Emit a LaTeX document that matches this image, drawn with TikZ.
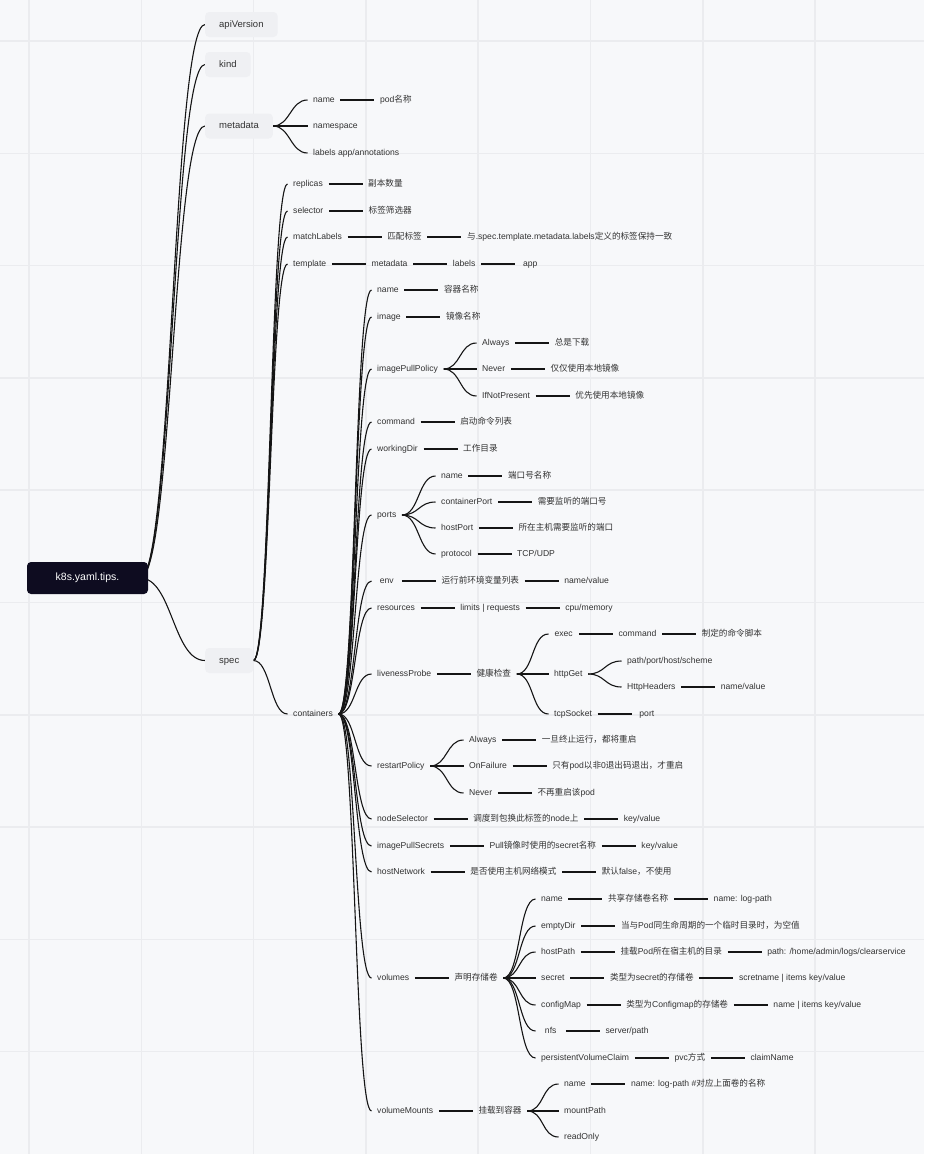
\documentclass[tikz,border=0pt]{standalone}
\usepackage{fontspec}
\setmainfont{Liberation Sans}
\newfontfamily\cjk{Noto Sans CJK SC}
\newcommand\zh[1]{{\cjk #1}}
\usetikzlibrary{positioning}
\definecolor{paper}{HTML}{F7F8FA}
\definecolor{gridc}{HTML}{EBECEF}
\definecolor{rootc}{HTML}{0E0C20}
\definecolor{topicc}{HTML}{EFF0F3}
\definecolor{inkc}{HTML}{333333}
\definecolor{wirec}{HTML}{151515}
\pgfdeclarelayer{back}
\pgfsetlayers{back,main}

\begin{document}
\begin{tikzpicture}[x=1pt,y=-1pt,
    root/.style={fill=rootc,text=white,rounded corners=4pt,minimum width=121pt,
      minimum height=32pt,font=\fontsize{10.5}{12}\selectfont},
    topic/.style={anchor=west,fill=topicc,text=inkc,rounded corners=4pt,inner xsep=14pt,
      minimum height=25pt,text height=7.5pt,text depth=2pt,font=\fontsize{9.5}{11}\selectfont},
    leaf/.style={anchor=west,text=inkc,inner xsep=5.5pt,inner ysep=2pt,minimum width=30pt,
      text height=6.5pt,text depth=2pt,font=\fontsize{8.6}{10}\selectfont},
    link/.style={draw=wirec,line width=1.1pt},
    branch/.style={link,to path={(\tikztostart) .. controls +(#1,0) and +(-#1,0) .. (\tikztotarget)}},
    branch/.default=17,
    node distance=34pt]
  \useasboundingbox (0,0) rectangle (924,1154);
  \begin{pgfonlayer}{back}
    \fill[paper] (0,0) rectangle (924,1154);
    \foreach \k in {0,...,7}
      \draw[gridc,line width=1.5pt] ({29+112.3*\k},0) -- ({29+112.3*\k},1154);
    \foreach \k in {0,...,9}
      \draw[gridc,line width=1.5pt] (0,{41+112.3*\k}) -- (924,{41+112.3*\k});
  \end{pgfonlayer}

  \node[root] (root) at (87.5,578) {k8s.yaml.tips.};
  \node[topic] (api) at (205,24.5) {apiVersion};
  \node[topic] (kind) at (205,64.5) {kind};
  \node[topic] (meta) at (205,126) {metadata};
  \node[topic] (spec) at (205,660.5) {spec};

  % metadata
  \node[leaf] (mName) at (307.5,100) {name};
  \node[leaf,right=of mName] (mNameV) {pod\zh{名称}};
  \node[leaf] (mNs) at (307.5,126) {namespace};
  \node[leaf] (mLabels) at (307.5,153) {labels app/annotations};

  % spec
  \node[leaf] (replicas) at (287.5,184) {replicas};
  \node[leaf,right=of replicas] (replicasV) {\zh{副本数量}};
  \node[leaf] (selector) at (287.5,211) {selector};
  \node[leaf,right=of selector] (selectorV) {\zh{标签筛选器}};
  \node[leaf] (match) at (287.5,237) {matchLabels};
  \node[leaf,right=of match] (matchV) {\zh{匹配标签}};
  \node[leaf,right=of matchV] (matchW) {\zh{与}.spec.template.metadata.labels\zh{定义的标签保持一致}};
  \node[leaf] (tmpl) at (287.5,264) {template};
  \node[leaf,right=of tmpl] (tmplMeta) {metadata};
  \node[leaf,right=of tmplMeta] (tmplLabels) {labels};
  \node[leaf,right=of tmplLabels] (tmplApp) {app};
  \node[leaf] (ctr) at (287.5,714) {containers};

  % containers
  \node[leaf] (cName) at (371.5,290) {name};
  \node[leaf,right=of cName] (cNameV) {\zh{容器名称}};
  \node[leaf] (cImage) at (371.5,317) {image};
  \node[leaf,right=of cImage] (cImageV) {\zh{镜像名称}};
  \node[leaf] (pull) at (371.5,369) {imagePullPolicy};
  \node[leaf] (pullA) at (476.5,343) {Always};
  \node[leaf,right=of pullA] (pullAV) {\zh{总是下载}};
  \node[leaf] (pullN) at (476.5,369) {Never};
  \node[leaf,right=of pullN] (pullNV) {\zh{仅仅使用本地镜像}};
  \node[leaf] (pullI) at (476.5,396) {IfNotPresent};
  \node[leaf,right=of pullI] (pullIV) {\zh{优先使用本地镜像}};
  \node[leaf] (cmd) at (371.5,422) {command};
  \node[leaf,right=of cmd] (cmdV) {\zh{启动命令列表}};
  \node[leaf] (wdir) at (371.5,449) {workingDir};
  \node[leaf,right=of wdir] (wdirV) {\zh{工作目录}};
  \node[leaf] (ports) at (371.5,515) {ports};
  \node[leaf] (pName) at (435.5,476) {name};
  \node[leaf,right=of pName] (pNameV) {\zh{端口号名称}};
  \node[leaf] (pCtr) at (435.5,502) {containerPort};
  \node[leaf,right=of pCtr] (pCtrV) {\zh{需要监听的端口号}};
  \node[leaf] (pHost) at (435.5,528) {hostPort};
  \node[leaf,right=of pHost] (pHostV) {\zh{所在主机需要监听的端口}};
  \node[leaf] (pProto) at (435.5,554) {protocol};
  \node[leaf,right=of pProto] (pProtoV) {TCP/UDP};
  \node[leaf] (env) at (371.5,581) {env};
  \node[leaf,right=of env] (envV) {\zh{运行前环境变量列表}};
  \node[leaf,right=of envV] (envW) {name/value};
  \node[leaf] (res) at (371.5,608) {resources};
  \node[leaf,right=of res] (resV) {limits | requests};
  \node[leaf,right=of resV] (resW) {cpu/memory};
  \node[leaf] (probe) at (371.5,674) {livenessProbe};
  \node[leaf,right=of probe] (probeV) {\zh{健康检查}};
  \node[leaf] (exec) at (548.5,634) {exec};
  \node[leaf,right=of exec] (execCmd) {command};
  \node[leaf,right=of execCmd] (execV) {\zh{制定的命令脚本}};
  \node[leaf] (http) at (548.5,674) {httpGet};
  \node[leaf] (httpPath) at (621.5,661) {path/port/host/scheme};
  \node[leaf] (httpHead) at (621.5,687) {HttpHeaders};
  \node[leaf,right=of httpHead] (httpHeadV) {name/value};
  \node[leaf] (tcp) at (548.5,714) {tcpSocket};
  \node[leaf,right=of tcp] (tcpV) {port};
  \node[leaf] (restart) at (371.5,766) {restartPolicy};
  \node[leaf] (rsA) at (463.5,740) {Always};
  \node[leaf,right=of rsA] (rsAV) {\zh{一旦终止运行，都将重启}};
  \node[leaf] (rsF) at (463.5,766) {OnFailure};
  \node[leaf,right=of rsF] (rsFV) {\zh{只有}pod\zh{以非}0\zh{退出码退出，才重启}};
  \node[leaf] (rsN) at (463.5,793) {Never};
  \node[leaf,right=of rsN] (rsNV) {\zh{不再重启该}pod};
  \node[leaf] (nsel) at (371.5,819) {nodeSelector};
  \node[leaf,right=of nsel] (nselV) {\zh{调度到包换此标签的}node\zh{上}};
  \node[leaf,right=of nselV] (nselW) {key/value};
  \node[leaf] (secrets) at (371.5,846) {imagePullSecrets};
  \node[leaf,right=of secrets] (secretsV) {Pull\zh{镜像时使用的}secret\zh{名称}};
  \node[leaf,right=of secretsV] (secretsW) {key/value};
  \node[leaf] (hnet) at (371.5,872) {hostNetwork};
  \node[leaf,right=of hnet] (hnetV) {\zh{是否使用主机网络模式}};
  \node[leaf,right=of hnetV] (hnetW) {\zh{默认}false\zh{，不使用}};
  \node[leaf] (vols) at (371.5,978) {volumes};
  \node[leaf,right=of vols] (volsV) {\zh{声明存储卷}};
  \node[leaf] (vName) at (535.5,899) {name};
  \node[leaf,right=of vName] (vNameV) {\zh{共享存储卷名称}};
  \node[leaf,right=of vNameV] (vNameW) {name: log-path};
  \node[leaf] (vEmpty) at (535.5,926) {emptyDir};
  \node[leaf,right=of vEmpty] (vEmptyV) {\zh{当与}Pod\zh{同生命周期的一个临时目录时，为空值}};
  \node[leaf] (vHost) at (535.5,952) {hostPath};
  \node[leaf,right=of vHost] (vHostV) {\zh{挂载}Pod\zh{所在宿主机的目录}};
  \node[leaf,right=of vHostV] (vHostW) {path: /home/admin/logs/clearservice};
  \node[leaf] (vSec) at (535.5,978) {secret};
  \node[leaf,right=of vSec] (vSecV) {\zh{类型为}secret\zh{的存储卷}};
  \node[leaf,right=of vSecV] (vSecW) {scretname | items key/value};
  \node[leaf] (vCfg) at (535.5,1005) {configMap};
  \node[leaf,right=of vCfg] (vCfgV) {\zh{类型为}Configmap\zh{的存储卷}};
  \node[leaf,right=of vCfgV] (vCfgW) {name | items key/value};
  \node[leaf] (vNfs) at (535.5,1031) {nfs};
  \node[leaf,right=of vNfs] (vNfsV) {server/path};
  \node[leaf] (vPvc) at (535.5,1058) {persistentVolumeClaim};
  \node[leaf,right=of vPvc] (vPvcV) {pvc\zh{方式}};
  \node[leaf,right=of vPvcV] (vPvcW) {claimName};
  \node[leaf] (mounts) at (371.5,1111) {volumeMounts};
  \node[leaf,right=of mounts] (mountsV) {\zh{挂载到容器}};
  \node[leaf] (mtName) at (558.5,1084) {name};
  \node[leaf,right=of mtName] (mtNameV) {name: log-path \#\zh{对应上面卷的名称}};
  \node[leaf] (mtPath) at (558.5,1111) {mountPath};
  \node[leaf] (mtRO) at (558.5,1137) {readOnly};

  % curved branches
  \begin{pgfonlayer}{back}
    \foreach \t in {api,kind,meta,spec}
      \draw[branch=32] ([xshift=-8pt]root.east) to (\t.west);
    \foreach \t in {mName,mNs,mLabels}
      \draw[branch] (meta.east) to (\t.west);
    \foreach \t in {replicas,selector,match,tmpl,ctr}
      \draw[branch] (spec.east) to (\t.west);
    \foreach \t in {cName,cImage,pull,cmd,wdir,ports,env,res,probe,restart,nsel,secrets,hnet,vols,mounts}
      \draw[branch] (ctr.east) to (\t.west);
    \foreach \p/\t in {pull/pullA,pull/pullN,pull/pullI,ports/pName,ports/pCtr,ports/pHost,ports/pProto,
        probeV/exec,probeV/http,probeV/tcp,http/httpPath,http/httpHead,restart/rsA,restart/rsF,restart/rsN,
        volsV/vName,volsV/vEmpty,volsV/vHost,volsV/vSec,volsV/vCfg,volsV/vNfs,volsV/vPvc,
        mountsV/mtName,mountsV/mtPath,mountsV/mtRO}
      \draw[branch] (\p.east) to (\t.west);
  \end{pgfonlayer}

  % straight links
  \foreach \a/\b in {mName/mNameV,replicas/replicasV,selector/selectorV,match/matchV,matchV/matchW,
      tmpl/tmplMeta,tmplMeta/tmplLabels,tmplLabels/tmplApp,cName/cNameV,cImage/cImageV,
      pullA/pullAV,pullN/pullNV,pullI/pullIV,cmd/cmdV,wdir/wdirV,pName/pNameV,pCtr/pCtrV,
      pHost/pHostV,pProto/pProtoV,env/envV,envV/envW,res/resV,resV/resW,probe/probeV,
      exec/execCmd,execCmd/execV,httpHead/httpHeadV,tcp/tcpV,rsA/rsAV,rsF/rsFV,rsN/rsNV,
      nsel/nselV,nselV/nselW,secrets/secretsV,secretsV/secretsW,hnet/hnetV,hnetV/hnetW,
      vols/volsV,vName/vNameV,vNameV/vNameW,vEmpty/vEmptyV,vHost/vHostV,vHostV/vHostW,
      vSec/vSecV,vSecV/vSecW,vCfg/vCfgV,vCfgV/vCfgW,vNfs/vNfsV,vPvc/vPvcV,vPvcV/vPvcW,
      mounts/mountsV,mtName/mtNameV}
    \draw[link] (\a) -- (\b);
\end{tikzpicture}
\end{document}
